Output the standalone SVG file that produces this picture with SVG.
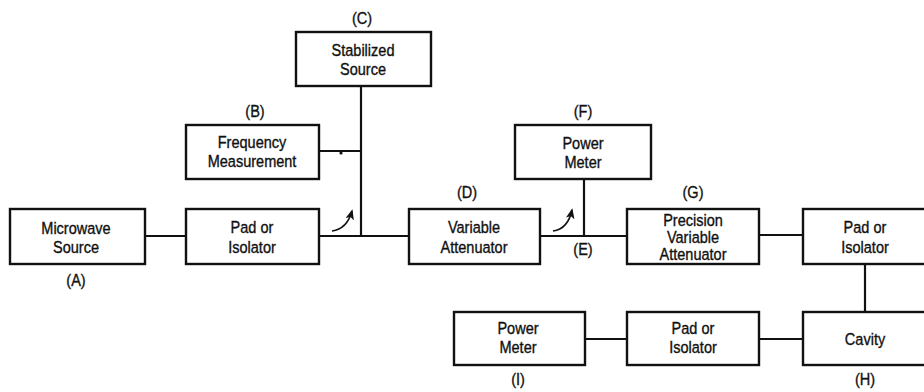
<svg xmlns="http://www.w3.org/2000/svg" width="924" height="392" viewBox="0 0 924 392">
<style>
.box{fill:#fff;stroke:#111;stroke-width:2.4}
.ln{fill:none;stroke:#111;stroke-width:2.2}
text{font-family:"Liberation Sans",Arial,sans-serif;font-size:16.5px;fill:#111;stroke:#111;stroke-width:0.35;text-anchor:middle;transform-box:fill-box;transform-origin:center;transform:scaleX(0.88)}
</style>
<defs>
<marker id="ah" viewBox="0 0 12 10" refX="10" refY="5" markerWidth="6.5" markerHeight="5.5" orient="auto">
<path d="M0,0 L12,5 L0,10 L3,5 z" fill="#111"/>
</marker>
</defs>
<rect width="924" height="392" fill="#fff"/>
<g id="connectors">
<line class="ln" x1="145" y1="236" x2="186" y2="236"/>
<line class="ln" x1="319" y1="236" x2="409" y2="236"/>
<line class="ln" x1="361" y1="86" x2="361" y2="236"/>
<line class="ln" x1="319" y1="151" x2="361" y2="151"/>
<circle cx="341" cy="153" r="1.6" fill="#111"/>
<line class="ln" x1="540" y1="236" x2="627" y2="236"/>
<line class="ln" x1="584" y1="179" x2="584" y2="236"/>
<line class="ln" x1="759" y1="235" x2="803" y2="235"/>
<line class="ln" x1="865" y1="264" x2="865" y2="312"/>
<line class="ln" x1="759" y1="339" x2="803" y2="339"/>
<line class="ln" x1="585" y1="339" x2="627" y2="339"/>
<path class="ln" style="stroke-width:1.6" d="M332,231 Q347,229 352,211" marker-end="url(#ah)"/>
<path class="ln" style="stroke-width:1.6" d="M553,231 Q568,229 572,210" marker-end="url(#ah)"/>
</g>
<g id="nodeC">
<rect class="box" x="296" y="32" width="135" height="54"/>
<text x="363" y="56">Stabilized</text>
<text x="363" y="75">Source</text>
<text x="362" y="24">(C)</text>
</g>
<g id="nodeB">
<rect class="box" x="186" y="125" width="133" height="54"/>
<text x="252" y="148">Frequency</text>
<text x="252" y="167">Measurement</text>
<text x="255" y="117">(B)</text>
</g>
<g id="nodeA">
<rect class="box" x="10" y="209" width="135" height="55"/>
<text x="76" y="234">Microwave</text>
<text x="76" y="253">Source</text>
<text x="76" y="286">(A)</text>
</g>
<g id="pad1">
<rect class="box" x="186" y="209" width="133" height="55"/>
<text x="252" y="233">Pad or</text>
<text x="252" y="253">Isolator</text>
</g>
<g id="nodeD">
<rect class="box" x="409" y="209" width="131" height="55"/>
<text x="474" y="233">Variable</text>
<text x="474" y="253">Attenuator</text>
<text x="467" y="198">(D)</text>
</g>
<g id="nodeF">
<rect class="box" x="515" y="125" width="136" height="54"/>
<text x="583" y="149">Power</text>
<text x="583" y="168">Meter</text>
<text x="583" y="117">(F)</text>
</g>
<g id="nodeE">
<text x="583" y="255">(E)</text>
</g>
<g id="nodeG">
<rect class="box" x="627" y="209" width="132" height="55"/>
<text x="693" y="226">Precision</text>
<text x="693" y="243">Variable</text>
<text x="693" y="260">Attenuator</text>
<text x="693" y="198">(G)</text>
</g>
<g id="pad2">
<rect class="box" x="803" y="209" width="126" height="55"/>
<text x="865" y="233">Pad or</text>
<text x="865" y="253">Isolator</text>
</g>
<g id="nodeH">
<rect class="box" x="803" y="312" width="126" height="53"/>
<text x="865" y="345">Cavity</text>
<text x="865" y="385">(H)</text>
</g>
<g id="pad3">
<rect class="box" x="627" y="312" width="132" height="53"/>
<text x="693" y="334">Pad or</text>
<text x="693" y="353">Isolator</text>
</g>
<g id="nodeI">
<rect class="box" x="454" y="312" width="131" height="53"/>
<text x="518" y="334">Power</text>
<text x="518" y="353">Meter</text>
<text x="518" y="385">(I)</text>
</g>
</svg>
